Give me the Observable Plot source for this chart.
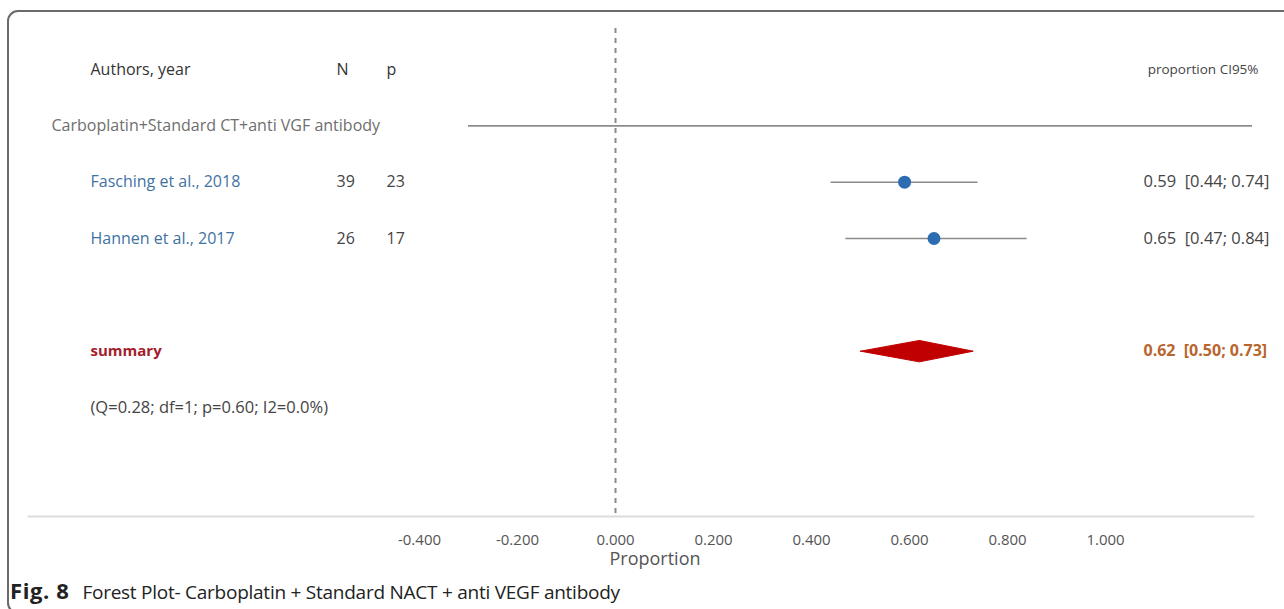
<!DOCTYPE html>
<html>
<head>
<meta charset="utf-8">
<script src="https://cdn.jsdelivr.net/npm/d3@7"></script>
<script src="https://cdn.jsdelivr.net/npm/@observablehq/plot@0.6"></script>
<style>
  html, body { margin: 0; padding: 0; background: #fff; width: 1284px; height: 609px; overflow: hidden; }
  #frame { position: absolute; left: 7px; top: 10px; width: 1300px; height: 600px; border: 2px solid #6a6a6a; border-radius: 11px; }
  #chart { position: absolute; left: 0; top: 0; }
  #chart svg text { white-space: pre; }
  #caption { position: absolute; left: 10px; top: 575px; font-family: "Open Sans", sans-serif; font-size: 19px; letter-spacing: -0.25px; color: #222; white-space: pre; }
  #caption b { font-weight: bold; font-size: 22px; letter-spacing: 0.6px; margin-right: 13px; }
</style>
</head>
<body>
<div id="frame"></div>
<div id="chart"></div>
<div id="caption"><b>Fig. 8</b>Forest Plot- Carboplatin + Standard NACT + anti VEGF antibody</div>
<script>
// ---- data ----
const headerLabels = ["Authors, year", "N", "p", "proportion CI95%"];
const groupLabel = "Carboplatin+Standard CT+anti VGF antibody";
const groupLineExtent = [-0.3, 1.3];
const studies = ["Fasching et al., 2018", "Hannen et al., 2017"];
const nTotal = [39, 26];
const nEvents = [23, 17];
const proportion = [0.59, 0.65];
const ciLow = [0.44, 0.47];
const ciHigh = [0.74, 0.84];
const summaryLabel = "summary";
const summaryEst = 0.62;
const summaryLow = 0.50;
const summaryHigh = 0.73;
const heterogeneity = "(Q=0.28; df=1; p=0.60; I2=0.0%)";
const xTicks = [-0.4, -0.2, 0, 0.2, 0.4, 0.6, 0.8, 1.0];
const axisLabel = "Proportion";

// row order (0 = header)
const headerRow = 0, groupRow = 1, firstStudyRow = 2, summaryRow = 5, hetRow = 6;

const studyRows = studies.map((name, i) => ({
  row: firstStudyRow + i, name, n: nTotal[i], p: nEvents[i],
  est: proportion[i], lo: ciLow[i], hi: ciHigh[i]
}));
const fmt = v => v.toFixed(2);
const ciText = d => `${fmt(d.est)}  [${fmt(d.lo)}; ${fmt(d.hi)}]`;
const summary = [{row: summaryRow, est: summaryEst, lo: summaryLow, hi: summaryHigh}];
const dh = 0.19;
const diamond = summary.flatMap(s => [
  {x: s.lo, y: s.row}, {x: s.est, y: s.row - dh}, {x: s.hi, y: s.row}, {x: s.est, y: s.row + dh}, {x: s.lo, y: s.row}
]);

const font = "'Open Sans', sans-serif";
const chart = Plot.plot({
  width: 1284,
  height: 570,
  marginTop: 28,
  marginBottom: 54,
  marginLeft: 28,
  marginRight: 31,
  x: {domain: [0, 1], range: [615, 1105]},
  y: {domain: [0, 6], range: [69, 407], axis: null},
  style: {fontFamily: font, fontSize: "16px", background: "transparent", color: "#555"},
  marks: [
    Plot.frame({anchor: "bottom", stroke: "#dcdcdc", strokeWidth: 2}),
    Plot.ruleX([0], {stroke: "#8a8a8a", strokeWidth: 2, strokeDasharray: "5,5"}),
    Plot.ruleY([groupRow], {x1: groupLineExtent[0], x2: groupLineExtent[1], stroke: "#8c8c8c", strokeWidth: 1.6}),
    Plot.axisX({ticks: xTicks, tickSize: 0, tickPadding: 18, tickFormat: d => d.toFixed(3), fontSize: 15, fill: "#555", label: null}),
    Plot.text([axisLabel], {frameAnchor: "bottom", lineAnchor: "middle", dx: 14, dy: 43, fontSize: 18, fill: "#555"}),
    // header
    Plot.text([headerLabels[0]], {y: [headerRow], frameAnchor: "left", dx: 62, textAnchor: "start", fill: "#333", fontSize: 16}),
    Plot.text([headerLabels[1]], {y: [headerRow], frameAnchor: "left", dx: 308, textAnchor: "start", fill: "#333", fontSize: 16}),
    Plot.text([headerLabels[2]], {y: [headerRow], frameAnchor: "left", dx: 358, textAnchor: "start", fill: "#333", fontSize: 16}),
    Plot.text([headerLabels[3]], {y: [headerRow], frameAnchor: "right", dx: 5, textAnchor: "end", fill: "#444", fontSize: 13.5}),
    // group
    Plot.text([groupLabel], {y: [groupRow], frameAnchor: "left", dx: 23, textAnchor: "start", fill: "#6e6e6e", fontSize: 16}),
    // studies
    Plot.text(studyRows, {y: "row", text: "name", frameAnchor: "left", dx: 62, textAnchor: "start", fill: "#3f72a3", fontSize: 16}),
    Plot.text(studyRows, {y: "row", text: d => String(d.n), frameAnchor: "left", dx: 308, textAnchor: "start", fill: "#444", fontSize: 16}),
    Plot.text(studyRows, {y: "row", text: d => String(d.p), frameAnchor: "left", dx: 358, textAnchor: "start", fill: "#444", fontSize: 16}),
    Plot.ruleY(studyRows, {y: "row", x1: "lo", x2: "hi", stroke: "#8a8a8a", strokeWidth: 1.5}),
    Plot.dot(studyRows, {x: "est", y: "row", r: 6.5, fill: "#2b6cb2", stroke: "none"}),
    Plot.text(studyRows, {y: "row", text: ciText, frameAnchor: "right", dx: -110, textAnchor: "start", fill: "#444", fontSize: 16.5}),
    // summary
    Plot.line(diamond, {x: "x", y: "y", fill: "#c00000", stroke: "#c00000", strokeWidth: 1}),
    Plot.text(summary, {y: "row", text: () => summaryLabel, frameAnchor: "left", dx: 62, textAnchor: "start", fill: "#a3202b", fontWeight: "bold", fontSize: 15}),
    Plot.text(summary, {y: "row", text: ciText, frameAnchor: "right", dx: -110, textAnchor: "start", fill: "#b8652e", fontWeight: "bold", fontSize: 16}),
    Plot.text([heterogeneity], {y: [hetRow], frameAnchor: "left", dx: 62, textAnchor: "start", fill: "#444", fontSize: 16.5})
  ]
});
document.getElementById("chart").appendChild(chart);
</script>
</body>
</html>
